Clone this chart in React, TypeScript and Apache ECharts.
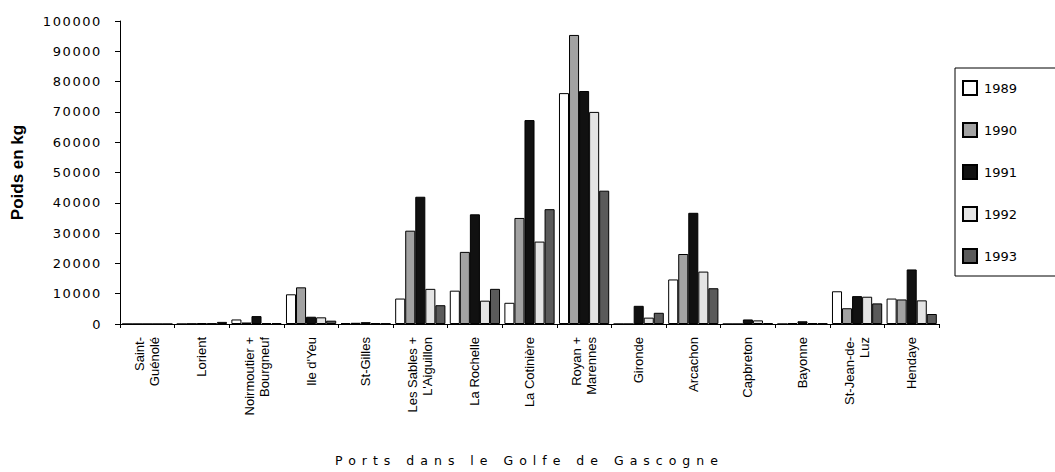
import React, { useEffect, useRef } from "react";
import * as echarts from "echarts";

const categories = [
  "Saint-\nGuénolé",
  "Lorient",
  "Noirmoutier +\nBourgneuf",
  "Ile d'Yeu",
  "St-Gilles",
  "Les Sables +\nL'Aiguillon",
  "La Rochelle",
  "La Cotinière",
  "Royan +\nMarennes",
  "Gironde",
  "Arcachon",
  "Capbreton",
  "Bayonne",
  "St-Jean-de-\nLuz",
  "Hendaye",
];

const years = ["1989", "1990", "1991", "1992", "1993"];

const v1989 = [0, 0, 1500, 9800, 300, 8400, 11000, 7000, 76200, 0, 14700, 0, 0, 10800, 8400];
const v1990 = [0, 100, 500, 12100, 400, 30800, 23800, 35000, 95400, 0, 23100, 0, 300, 5200, 8100];
const v1991 = [0, 300, 2600, 2400, 600, 42000, 36200, 67300, 76900, 6000, 36700, 1500, 900, 9200, 18000];
const v1992 = [0, 200, 300, 2200, 300, 11600, 7700, 27200, 70000, 2100, 17300, 1200, 300, 9000, 7800];
const v1993 = [0, 700, 300, 1100, 200, 6200, 11600, 37900, 44000, 3700, 11800, 300, 200, 6800, 3300];

const seriesValues = [v1989, v1990, v1991, v1992, v1993];
const seriesColors = ["#ffffff", "#a2a2a2", "#111111", "#e4e4e4", "#5a5a5a"];

const yTicks = ["0", "10000", "20000", "30000", "40000", "50000", "60000", "70000", "80000", "90000", "100000"];

const yTitle = "Poids en kg";
const xTitle = "Ports dans le Golfe de Gascogne";

export default function App() {
  const ref = useRef<HTMLDivElement>(null);

  useEffect(() => {
    if (!ref.current) return;
    const chart = echarts.init(ref.current, undefined, { renderer: "svg" });

    const option = {
      animation: false,
      backgroundColor: "#ffffff",
      grid: { left: 120, right: 116, top: 21, bottom: 148 },
      legend: {
        orient: "vertical",
        left: 955,
        top: 68,
        data: years,
        icon: "rect",
        itemWidth: 14,
        itemHeight: 14,
        itemGap: 26,
        padding: [12, 50, 12, 7],
        borderColor: "#000",
        borderWidth: 1,
        textStyle: { fontFamily: "DejaVu Sans", fontSize: 13, color: "#000", padding: [0, 0, 0, 2] },
      },
      xAxis: {
        type: "category",
        data: categories,
        name: xTitle,
        nameLocation: "middle",
        nameGap: 130,
        nameTextStyle: { fontFamily: "DejaVu Sans", fontSize: 12.5, color: "#000" },
        axisLine: { lineStyle: { color: "#000", width: 1 } },
        axisTick: { show: true, length: 4, lineStyle: { color: "#000" } },
        axisLabel: {
          rotate: 90,
          interval: 0,
          margin: 13,
          fontFamily: "Liberation Sans",
          fontSize: 13,
          color: "#000",
          lineHeight: 15,
        },
      },
      yAxis: {
        type: "value",
        min: 0,
        max: 100000,
        interval: 10000,
        name: yTitle,
        nameLocation: "middle",
        nameGap: 94,
        nameTextStyle: { fontFamily: "Liberation Sans", fontSize: 17, fontWeight: "bold", color: "#000" },
        axisLine: { show: true, lineStyle: { color: "#000", width: 1 } },
        axisTick: { show: true, length: 5, lineStyle: { color: "#000" } },
        splitLine: { show: false },
        axisLabel: {
          margin: 18,
          fontFamily: "DejaVu Sans",
          fontSize: 13,
          color: "#000",
          formatter: (v: number) => yTicks[Math.round(v / 10000)] ?? String(v),
        },
      },
      series: years.map((y, i) => ({
        name: y,
        type: "bar",
        data: seriesValues[i],
        barGap: "0%",
        barCategoryGap: "8%",
        itemStyle: { color: seriesColors[i], borderColor: "#000", borderWidth: 1 },
      })),
    };

    const applySpacing = () => {
      const root = ref.current;
      if (!root) return;
      root.querySelectorAll("text").forEach((t) => {
        const s = t.textContent || "";
        if (s === xTitle) t.setAttribute("letter-spacing", "6");
        else if (yTicks.includes(s)) t.setAttribute("letter-spacing", "1.6");
      });
    };

    chart.on("finished", applySpacing);
    chart.setOption(option);
    applySpacing();
    const timer = setTimeout(applySpacing, 50);

    return () => {
      clearTimeout(timer);
      chart.dispose();
    };
  }, []);

  return (
    <div
      ref={ref}
      style={{ position: "fixed", left: 0, top: 0, width: 1055, height: 472, background: "#fff" }}
    />
  );
}
